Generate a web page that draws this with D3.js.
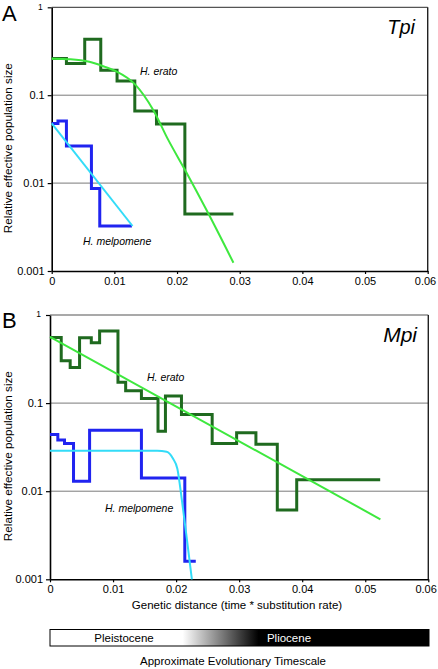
<!DOCTYPE html>
<html><head><meta charset="utf-8">
<script src="https://cdn.jsdelivr.net/npm/d3@7"></script>
<style>body{margin:0;background:#fff}svg{display:block}text{font-family:Arial,"Liberation Sans",sans-serif}</style>
</head><body><svg id="c" width="438" height="669"></svg>
<script>
// ---- data ----
const xTicks = [0, 0.01, 0.02, 0.03, 0.04, 0.05, 0.06];
const xTickLabels = ["0", "0.01", "0.02", "0.03", "0.04", "0.05", "0.06"];
const yTicks = [0.001, 0.01, 0.1, 1];
const yTickLabels = ["0.001", "0.01", "0.1", "1"];

// Panel A (Tpi)
const tpiEratoStepX = [0, 0.00235, 0.00527, 0.00783, 0.01043, 0.01326, 0.01672, 0.02125, 0.029];
const tpiEratoStepY = [0.261, 0.229, 0.433, 0.192, 0.145, 0.066, 0.047, 0.00445, 0.00445];
const tpiEratoFitX = [0, 0.003, 0.006, 0.0085, 0.0103, 0.0133, 0.0162, 0.0186, 0.0213, 0.025, 0.029];
const tpiEratoFitY = [0.26, 0.256, 0.24, 0.21, 0.187, 0.133, 0.068, 0.031, 0.014, 0.0045, 0.00124];
const tpiMelpStepX = [0, 0.001, 0.00235, 0.00634, 0.00767, 0.0128];
const tpiMelpStepY = [0.0477, 0.051, 0.0265, 0.0087, 0.00325, 0.00325];
const tpiMelpFitX = [0, 0.0129];
const tpiMelpFitY = [0.0477, 0.00325];

// Panel B (Mpi)
const mpiEratoStepX = [0, 0.00178, 0.0032, 0.00469, 0.00655, 0.00787, 0.01078, 0.012, 0.0145, 0.01713, 0.01831, 0.02085, 0.02572, 0.0296, 0.03266, 0.03605, 0.03913, 0.05237];
const mpiEratoStepY = [0.557, 0.303, 0.254, 0.552, 0.484, 0.658, 0.172, 0.138, 0.113, 0.048, 0.12, 0.0744, 0.0348, 0.046, 0.0342, 0.0061, 0.0135, 0.0135];
const mpiEratoFitX = [0, 0.0524];
const mpiEratoFitY = [0.566, 0.0048];
const mpiMelpStepX = [0, 0.00124, 0.0023, 0.00373, 0.00628, 0.0145, 0.02138, 0.02312];
const mpiMelpStepY = [0.044, 0.038, 0.0348, 0.013, 0.0493, 0.0141, 0.0016, 0.0016];
const mpiMelpFitX = [0, 0.017, 0.0185, 0.0195, 0.0202, 0.0209, 0.0216, 0.0225];
const mpiMelpFitY = [0.0287, 0.0287, 0.028, 0.0235, 0.018, 0.0081, 0.0033, 0.001];

const colors = {erato: "#1f6a1f", eratoFit: "#3ee83e", melp: "#2024f0", melpFit: "#33dcf8"};
const FONT = 'Arial,"Liberation Sans",sans-serif';

const svg = d3.select("#c");
const zip = (xs, ys) => xs.map((x, i) => [x, ys[i]]);

function panel(cfg) {
  const x = d3.scaleLinear().domain([0, 0.06]).range([cfg.left, cfg.right]);
  const y = d3.scaleLog().domain([0.001, 1]).range([cfg.bottom, cfg.top]);
  const g = svg.append("g");
  // gridlines
  g.selectAll("line.grid").data([0.01, 0.1]).join("line")
    .attr("x1", cfg.left).attr("x2", cfg.right)
    .attr("y1", d => y(d)).attr("y2", d => y(d))
    .attr("stroke", "#7a7a7a").attr("stroke-width", 1);
  // top & right border
  g.append("line").attr("x1", cfg.left).attr("x2", cfg.right).attr("y1", y(1)).attr("y2", y(1))
    .attr("stroke", "#555").attr("stroke-width", 1.2);
  g.append("line").attr("x1", cfg.right).attr("x2", cfg.right).attr("y1", y(1)).attr("y2", y(0.001))
    .attr("stroke", "#222").attr("stroke-width", 1.4);
  // axes
  const ax = g.append("g").attr("transform", `translate(0,${cfg.bottom})`)
    .call(d3.axisBottom(x).tickValues(xTicks).tickFormat((d, i) => xTickLabels[i]).tickSize(3).tickPadding(3).tickSizeOuter(0));
  const ay = g.append("g").attr("transform", `translate(${cfg.left},0)`)
    .call(d3.axisLeft(y).tickValues(yTicks).tickFormat((d, i) => yTickLabels[i]).tickSize(4).tickPadding(3).tickSizeOuter(0));
  [ax, ay].forEach(a => {
    a.select(".domain").attr("stroke", "#000").attr("stroke-width", 1.6);
    a.selectAll(".tick line").attr("stroke", "#000").attr("stroke-width", 1.2);
    a.selectAll("text").attr("font-family", FONT).attr("font-size", 11).attr("fill", "#000");
  });
  // last x label sits slightly left of its tick, "1" is smaller
  ax.selectAll(".tick text").filter(d => d === 0.06).attr("dx", -2.7);
  ay.selectAll(".tick text").filter(d => d === 1).attr("font-size", 8.5).attr("dx", -2).attr("dy", "0.2em");
  // lines
  const step = d3.line().x(d => x(d[0])).y(d => y(d[1])).curve(d3.curveStepAfter);
  const smooth = d3.line().x(d => x(d[0])).y(d => y(d[1])).curve(d3.curveMonotoneX);
  g.append("path").attr("d", step(zip(cfg.eratoStepX, cfg.eratoStepY)))
    .attr("fill", "none").attr("stroke", colors.erato).attr("stroke-width", 3);
  g.append("path").attr("d", step(zip(cfg.melpStepX, cfg.melpStepY)))
    .attr("fill", "none").attr("stroke", colors.melp).attr("stroke-width", 3);
  g.append("path").attr("d", smooth(zip(cfg.eratoFitX, cfg.eratoFitY)))
    .attr("fill", "none").attr("stroke", colors.eratoFit).attr("stroke-width", 2);
  g.append("path").attr("d", smooth(zip(cfg.melpFitX, cfg.melpFitY)))
    .attr("fill", "none").attr("stroke", colors.melpFit).attr("stroke-width", 2);
  // labels
  g.append("text").attr("x", 2).attr("y", cfg.letterY).text(cfg.letter)
    .attr("font-family", FONT).attr("font-size", 22);
  g.append("text").attr("x", cfg.geneX).attr("y", cfg.geneY).attr("text-anchor", "end").text(cfg.gene)
    .attr("font-family", FONT).attr("font-size", cfg.geneSize).attr("font-style", "italic");
  g.append("text").attr("x", cfg.eratoLab[0]).attr("y", cfg.eratoLab[1]).text("H. erato")
    .attr("font-family", FONT).attr("font-size", 10.5).attr("font-style", "italic");
  g.append("text").attr("x", cfg.melpLab[0]).attr("y", cfg.melpLab[1]).text("H. melpomene")
    .attr("font-family", FONT).attr("font-size", 10.5).attr("font-style", "italic");
  g.append("text").attr("transform", `translate(11.5,${(cfg.top + cfg.bottom) / 2 + 9}) rotate(-90)`)
    .attr("text-anchor", "middle").text("Relative effective population size")
    .attr("font-family", FONT).attr("font-size", 11.7);
}

panel({left: 51.7, right: 427.7, top: 7.3, bottom: 271, letter: "A", letterY: 20.7, gene: "Tpi", geneX: 415, geneY: 34, geneSize: 20,
  eratoStepX: tpiEratoStepX, eratoStepY: tpiEratoStepY, eratoFitX: tpiEratoFitX, eratoFitY: tpiEratoFitY,
  melpStepX: tpiMelpStepX, melpStepY: tpiMelpStepY, melpFitX: tpiMelpFitX, melpFitY: tpiMelpFitY,
  eratoLab: [140, 74.5], melpLab: [83, 245]});
panel({left: 50, right: 428.3, top: 315, bottom: 579.3, letter: "B", letterY: 328.3, gene: "Mpi", geneX: 417, geneY: 341.5, geneSize: 21,
  eratoStepX: mpiEratoStepX, eratoStepY: mpiEratoStepY, eratoFitX: mpiEratoFitX, eratoFitY: mpiEratoFitY,
  melpStepX: mpiMelpStepX, melpStepY: mpiMelpStepY, melpFitX: mpiMelpFitX, melpFitY: mpiMelpFitY,
  eratoLab: [147, 380.5], melpLab: [105, 511.5]});

svg.append("text").attr("x", 237).attr("y", 609).attr("text-anchor", "middle")
  .text("Genetic distance (time * substitution rate)").attr("font-family", FONT).attr("font-size", 11.5);

// timescale bar
const defs = svg.append("defs");
const grad = defs.append("linearGradient").attr("id", "tg").attr("x1", "0").attr("x2", "1").attr("y1", "0").attr("y2", "0");
grad.append("stop").attr("offset", "0.35").attr("stop-color", "#fff");
grad.append("stop").attr("offset", "0.55").attr("stop-color", "#000");
svg.append("rect").attr("x", 50).attr("y", 629.5).attr("width", 379).attr("height", 16.5)
  .attr("fill", "url(#tg)").attr("stroke", "#000").attr("stroke-width", 1);
svg.append("text").attr("x", 124).attr("y", 642).attr("text-anchor", "middle").text("Pleistocene")
  .attr("font-family", FONT).attr("font-size", 11.5);
svg.append("text").attr("x", 289).attr("y", 642).attr("text-anchor", "middle").text("Pliocene")
  .attr("font-family", FONT).attr("font-size", 11.5).attr("fill", "#fff");
svg.append("text").attr("x", 233).attr("y", 665).attr("text-anchor", "middle").text("Approximate Evolutionary Timescale")
  .attr("font-family", FONT).attr("font-size", 11.5);
</script></body></html>
